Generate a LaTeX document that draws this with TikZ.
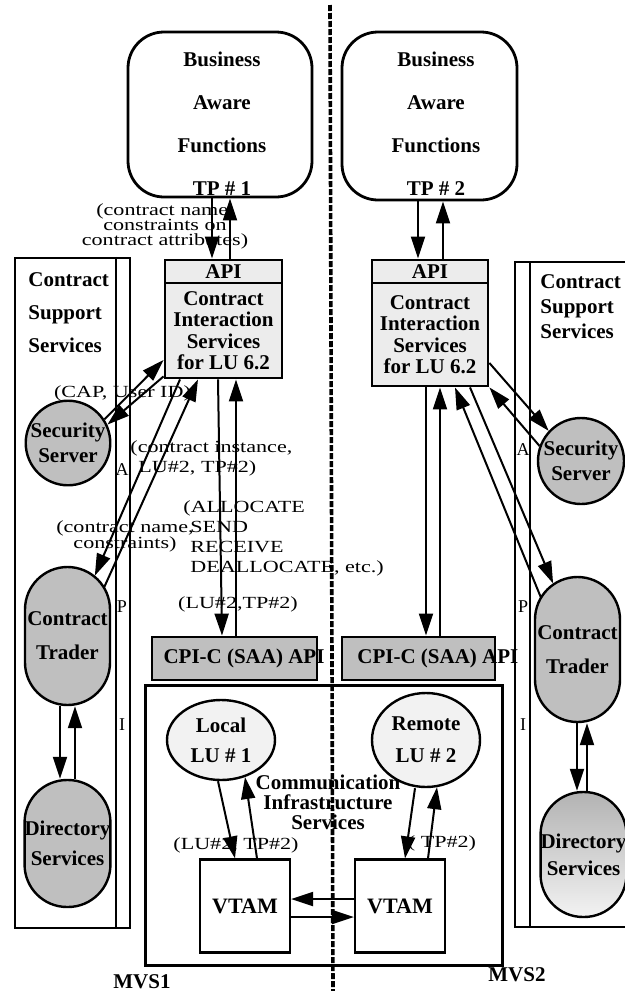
\documentclass[tikz,border=0pt]{standalone}
\usepackage{fontspec}
\setmainfont{Liberation Serif}
\newfontfamily\widefont[FakeStretch=1.3]{Liberation Serif}
\usetikzlibrary{arrows.meta,positioning,shapes.geometric}

\tikzstyle{bizbox} = [draw=black, line width=1.4pt, rectangle, rounded corners=18pt,
    minimum width=92pt, minimum height=82.5pt]
\tikzstyle{biztext} = [font=\bfseries\fontsize{10.5}{21.5}\selectfont, align=center, inner sep=0pt]
\tikzstyle{apibox} = [draw=black, line width=1.4pt, fill=gray!15, rectangle, inner sep=0pt,
    font=\bfseries\fontsize{10.5}{10.75}\selectfont, align=center]
\tikzstyle{column} = [draw=black, line width=1.2pt, rectangle, minimum width=57.5pt, minimum height=335pt]
\tikzstyle{colline} = [draw=black, line width=1.2pt]
\tikzstyle{coltitle} = [font=\bfseries\fontsize{10.5}{16.5}\selectfont, align=left, inner sep=0pt]
\tikzstyle{stripletter} = [font=\fontsize{9}{10}\selectfont, inner sep=0pt]
\tikzstyle{secnode} = [draw=black, line width=1.2pt, fill=gray!50, circle, inner sep=0pt,
    minimum size=41.5pt, font=\bfseries\fontsize{10.5}{12.5}\selectfont, align=center]
\tikzstyle{tradenode} = [draw=black, line width=1.2pt, fill=gray!50, rectangle, rounded corners=21.25pt,
    inner sep=0pt, minimum width=42.5pt, font=\bfseries\fontsize{10.5}{17}\selectfont, align=center]
\tikzstyle{cpicbox} = [draw=black, line width=1.4pt, fill=gray!50, rectangle, minimum height=21.5pt]
\tikzstyle{boldtext} = [font=\bfseries\fontsize{10.5}{10}\selectfont, align=center, inner sep=0pt]
\tikzstyle{commbox} = [draw=black, line width=1.5pt, rectangle, minimum width=178.5pt, minimum height=140pt]
\tikzstyle{lunode} = [draw=black, line width=1.2pt, fill=gray!10, ellipse, inner sep=0pt,
    minimum width=54pt, minimum height=40pt, font=\bfseries\fontsize{10.5}{15}\selectfont, align=center]
\tikzstyle{vtamnode} = [draw=black, line width=1.1pt, rectangle, minimum width=45pt, minimum height=46.5pt,
    font=\bfseries\fontsize{11}{12}\selectfont]
\tikzstyle{lbl} = [font=\widefont\fontsize{8.5}{10}\selectfont, inner sep=0pt]
\tikzstyle{arr} = [line width=1pt, -{Triangle[length=11pt,width=7pt]}]
\tikzstyle{divider} = [line width=1.8pt, dash pattern=on 3pt off 1pt]

\begin{document}
\begin{tikzpicture}[x=0.5pt,y=-0.5pt]
\useasboundingbox (0,0) rectangle (625,991);

% business aware functions
\node[bizbox] (biz1) at (220,114.5) {};
\node[biztext] (biz1txt) at (222,124) {Business\\Aware\\Functions\\TP \# 1};
\node[bizbox, minimum width=87.5pt, minimum height=84pt] (biz2) at (429.5,116) {};
\node[biztext] (biz2txt) at (436,124) {Business\\Aware\\Functions\\TP \# 2};

% contract interaction services
\node[apibox, minimum width=58.5pt, minimum height=11.5pt] (api1) at (223.5,271.5) {API};
\node[apibox, minimum width=58.5pt, minimum height=47.5pt] (cis1) at (223.5,330.5) {Contract\\Interaction\\Services\\for LU 6.2};
\node[apibox, minimum width=58pt, minimum height=11.5pt] (api2) at (430,271.5) {API};
\node[apibox, minimum width=58pt, minimum height=51.5pt] (cis2) at (430,334.5) {Contract\\Interaction\\Services\\for LU 6.2};

% contract support services
\node[column] (css1) at (72.5,593) {};
\draw[colline] ([xshift=-7.5pt]css1.north east) -- ([xshift=-7.5pt]css1.south east);
\node[coltitle, anchor=west] (css1txt) at (28,313) {Contract\\Support\\Services};
\draw[colline] (625,262) -| (515,927) -- (625,927);
\draw[colline] (530,262) -- (530,927);
\node[coltitle, anchor=west, font=\bfseries\fontsize{10.5}{12.5}\selectfont] (css2txt) at (540,307) {Contract\\Support\\Services};
\node[stripletter] (stripA1) at (122,470) {A};
\node[stripletter] (stripP1) at (122,607) {P};
\node[stripletter] (stripI1) at (122,725) {I};
\node[stripletter] (stripA2) at (523,450) {A};
\node[stripletter] (stripP2) at (523,607) {P};
\node[stripletter] (stripI2) at (523,725) {I};

\node[secnode] (sec1) at (68,443) {Security\\Server};
\node[secnode, minimum size=43pt] (sec2) at (581,461) {Security\\Server};
\node[tradenode, minimum height=69pt] (trader1) at (67.5,636) {Contract\\Trader};
\node[tradenode, minimum height=72.5pt] (trader2) at (577.5,649.5) {Contract\\Trader};
\node[tradenode, minimum height=63.5pt, font=\bfseries\fontsize{10.5}{15}\selectfont] (dir1) at (67.5,843.5) {Directory\\Services};
\node[tradenode, minimum height=62.5pt, top color=gray!60, bottom color=gray!10,
    font=\bfseries\fontsize{10.5}{13.5}\selectfont] (dir2) at (583.5,854.5) {Directory\\Services};

% communication infrastructure
\node[cpicbox, minimum width=82.5pt] (cpic1) at (234.5,658.5) {};
\node[boldtext] (cpic1txt) at (244,658.5) {CPI-C (SAA) API};
\node[cpicbox, minimum width=76.5pt] (cpic2) at (418.5,658.5) {};
\node[boldtext, anchor=west] (cpic2txt) at (357,658.5) {CPI-C (SAA) API};
\node[commbox] (comm) at (323.5,825) {};
\node[boldtext] (commtxt) at (328,802) {Communication\\Infrastructure\\Services};
\node[lunode] (lu1) at (221,740) {Local\\LU \# 1};
\node[lunode, minimum height=47pt, font=\bfseries\fontsize{10.5}{16}\selectfont] (lu2) at (426,740) {Remote\\LU \# 2};
\node[vtamnode] (vtam1) at (245,906) {VTAM};
\node[vtamnode] (vtam2) at (400,906) {VTAM};
\node[boldtext] (mvs1) at (142,982) {MVS1};
\node[boldtext] (mvs2) at (517,975) {MVS2};

% labels on the flows
\node[lbl, align=center, font=\widefont\fontsize{8.5}{7.5}\selectfont] (lblattr) at (165,226) {(contract name,\\constraints on\\contract attributes)};
\node[lbl] (lblcap) at (122.5,393) {(CAP, User ID)};
\node[lbl, align=left, anchor=west] (lblinst) at (130,458) {(contract instance,\\\hspace*{4pt}LU\#2, TP\#2)};
\node[lbl, align=left, anchor=west] (lblalloc) at (183,538) {(ALLOCATE\\\hspace*{3.5pt}SEND\\\hspace*{3.5pt}RECEIVE\\\hspace*{3.5pt}DEALLOCATE, etc.)};
\node[lbl, align=center, font=\widefont\fontsize{8.5}{8}\selectfont] (lblname) at (125,536) {(contract name,\\constraints)};
\node[lbl] (lbllu) at (238,604) {(LU\#2,TP\#2)};
\node[lbl] (lblvt1) at (236,845) {(LU\#2, TP\#2)};
\node[lbl] (lblvt2) at (442,843) {( TP\#2)};

% flows
\draw[arr] ([xshift=-4pt]biz1.south) -- ([xshift=-5.75pt]api1.north);
\draw[arr] ([xshift=3.25pt]api1.north) -- ([xshift=5pt]biz1.south);
\draw[arr] ([xshift=-5.75pt]biz2.south) -- ([xshift=-6pt]api2.north);
\draw[arr] ([xshift=6.5pt]api2.north) -- ([xshift=6.75pt]biz2.south);
\draw[arr] ([xshift=-2.75pt]cis1.south) -- ([xshift=-6.25pt]cpic1.north);
\draw[arr] ([xshift=0.75pt]cpic1.north) -- ([xshift=6.25pt]cis1.south);
\draw[arr] ([xshift=-2pt]cis2.south) -- ([xshift=3.75pt]cpic2.north);
\draw[arr] ([xshift=10.75pt]cpic2.north) -- ([xshift=5pt]cis2.south);
\draw[arr] (sec1.33) -- ([yshift=-14.75pt]cis1.west);
\draw[arr] ([yshift=1.5pt]cis1.south west) -- (sec1.25);
\draw[arr] ([xshift=18.4pt,yshift=-10.6pt]trader1.north) -- ([xshift=-12.75pt]cis1.south);
\draw[arr] ([xshift=-21.75pt]cis1.south) -- ([xshift=13.66pt,yshift=-4.97pt]trader1.north);
\draw[arr] ([yshift=-14.25pt]cis2.east) -- (sec2.137);
\draw[arr] (sec2.160) -- (cis2.south east);
\draw[arr] ([xshift=20pt]cis2.south) -- ([xshift=-12.19pt,yshift=-3.84pt]trader2.north);
\draw[arr] ([xshift=-18.4pt,yshift=-10.6pt]trader2.north) -- ([xshift=12.5pt]cis2.south);
\draw[arr] ([xshift=-3.75pt]trader1.south) -- ([xshift=-3.75pt]dir1.north);
\draw[arr] ([xshift=3.75pt]dir1.north) -- ([xshift=3.75pt]trader1.south);
\draw[arr] ([xshift=-0.25pt]trader2.south) -- ([xshift=-3.25pt]dir2.north);
\draw[arr] ([xshift=1.75pt]dir2.north) -- ([xshift=4.75pt]trader2.south);
\draw[arr] ([xshift=-1.5pt]lu1.south) -- ([xshift=-5pt]vtam1.north);
\draw[arr] ([xshift=6pt]vtam1.north) -- ([xshift=12pt,yshift=2.1pt]lu1.south);
\draw[arr] ([xshift=-5.5pt]lu2.south) -- ([xshift=2.5pt]vtam2.north);
\draw[arr] ([xshift=14pt]vtam2.north) -- ([xshift=5.5pt,yshift=0.5pt]lu2.south);
\draw[arr] ([yshift=3.5pt]vtam2.west) -- ([yshift=3.5pt]vtam1.east);
\draw[arr] ([yshift=-5.5pt]vtam1.east) -- ([yshift=-5.5pt]vtam2.west);

% host boundary
\coordinate (divtop) at (330,5);
\coordinate (divbot) at (333,991);
\draw[divider] (divtop) -- (divbot);
\end{tikzpicture}
\end{document}
